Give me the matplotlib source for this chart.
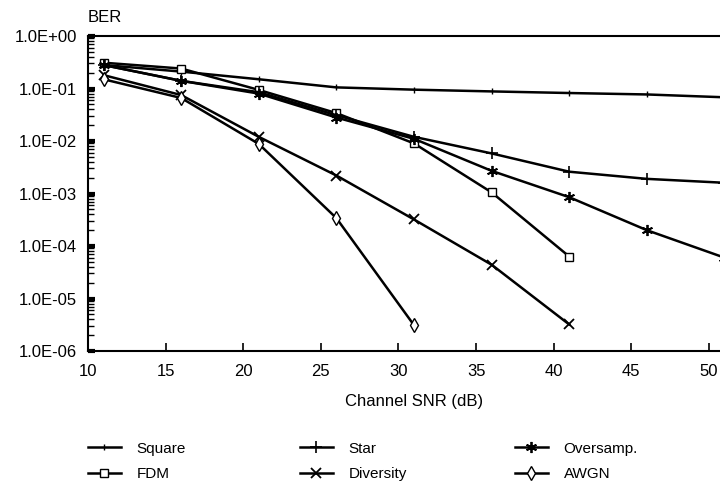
import numpy as np
import matplotlib.pyplot as plt
from matplotlib.ticker import FixedLocator, LogLocator, NullFormatter

plt.rcParams['font.family'] = ['Liberation Sans', 'DejaVu Sans']

# BER vs channel SNR
snr = [11, 16, 21, 26, 31, 36, 41, 46, 51]
ber_square = [0.28, 0.21, 0.15, 0.105, 0.095, 0.088, 0.082, 0.077, 0.068]
ber_star = [0.28, 0.14, 0.085, 0.031, 0.012, 0.0058, 0.0026, 0.0019, 0.0016]
ber_oversamp = [0.28, 0.14, 0.08, 0.028, 0.011, 0.0027, 0.00085, 0.0002, 0.00006]
ber_fdm = [0.31, 0.24, 0.094, 0.034, 0.009, 0.00105, 0.000063]
ber_diversity = [0.18, 0.075, 0.012, 0.0022, 0.00032, 0.000044, 0.0000032]
ber_awgn = [0.15, 0.066, 0.0088, 0.00034, 0.0000031]

yticks = [1e0, 1e-1, 1e-2, 1e-3, 1e-4, 1e-5, 1e-6]
ytick_labels = ['1.0E+00', '1.0E-01', '1.0E-02', '1.0E-03',
                '1.0E-04', '1.0E-05', '1.0E-06']
xticks = [10, 15, 20, 25, 30, 35, 40, 45, 50]

fig = plt.figure(figsize=(7.2, 4.86), dpi=100)
ax = fig.add_axes([88/720, 135/486, 652/720, 315/486])

lw = 1.8
ax.plot(snr, ber_square, color='black', lw=lw, marker='|', ms=4, mew=1.0,
        label='Square')
ax.plot(snr[:len(ber_fdm)], ber_fdm, color='black', lw=lw, marker='s', ms=6,
        mfc='white', mew=1.0, label='FDM')
ax.plot(snr, ber_star, color='black', lw=lw, marker='+', ms=8, mew=1.2,
        label='Star')
ax.plot(snr[:len(ber_diversity)], ber_diversity, color='black', lw=lw,
        marker='x', ms=6.5, mew=1.3, label='Diversity')
ax.plot(snr, ber_oversamp, color='black', lw=lw, marker=(6, 2, 0), ms=8,
        mew=1.3, label='Oversamp.')
ax.plot(snr[:len(ber_awgn)], ber_awgn, color='black', lw=lw, marker='d', ms=7,
        mfc='white', mew=1.0, label='AWGN')

ax.set_yscale('log')
ax.set_ylim(1e-6, 1e0)
ax.set_xlim(10, 52)
ax.yaxis.set_major_locator(FixedLocator(yticks))
ax.set_yticklabels(ytick_labels)
ax.yaxis.set_minor_locator(LogLocator(base=10, subs=np.arange(2, 10)))
ax.yaxis.set_minor_formatter(NullFormatter())
ax.set_xticks(xticks)

ax.tick_params(axis='y', which='major', direction='in', length=5, width=3,
               labelsize=12, pad=8)
ax.tick_params(axis='y', which='minor', direction='in', length=4, width=1)
ax.tick_params(axis='x', which='major', direction='in', length=6, width=1.2,
               labelsize=12, pad=9)
ax.spines['right'].set_visible(False)
for s in ['left', 'bottom', 'top']:
    ax.spines[s].set_linewidth(1.5)

ax.set_xlabel('Channel SNR (dB)', fontsize=12, labelpad=11)
fig.text(88/720, 1 - 18/486, 'BER', fontsize=12, ha='left', va='center')

# legend, three columns of two rows
handles, labels = ax.get_legend_handles_labels()
col_x = [80/720, 292/720, 507/720]
for i in range(3):
    fig.legend(handles[2*i:2*i+2], labels[2*i:2*i+2], loc='upper left',
               bbox_to_anchor=(col_x[i], 1 - 434/486), frameon=False,
               fontsize=11, handlelength=2.2, handletextpad=1.0,
               labelspacing=0.75, borderpad=0)

fig.savefig('out.png', dpi=100)
